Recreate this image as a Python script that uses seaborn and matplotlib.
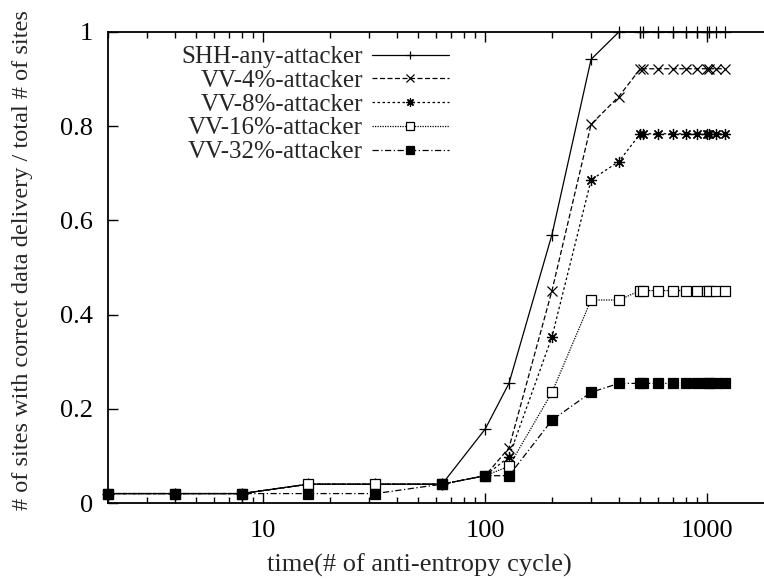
import numpy as np
import pandas as pd
import matplotlib
matplotlib.use("Agg")
import matplotlib.pyplot as plt
import seaborn as sns

# data
cycles = [2, 4, 8, 16, 32, 64, 100, 128, 200, 300, 400, 500, 512, 600, 700, 800, 900, 1000, 1024, 1100, 1200]

shh_any = [0.02, 0.02, 0.02, 0.04, 0.04, 0.04, 0.157, 0.254, 0.57, 0.942, 1.0,
           1.0, 1.0, 1.0, 1.0, 1.0, 1.0, 1.0, 1.0, 1.0, 1.0]
vv_4 = [0.02, 0.02, 0.02, 0.04, 0.04, 0.04, 0.058, 0.117, 0.451, 0.804, 0.863,
        0.922, 0.922, 0.922, 0.922, 0.922, 0.922, 0.922, 0.922, 0.922, 0.922]
vv_8 = [0.02, 0.02, 0.02, 0.04, 0.04, 0.04, 0.058, 0.098, 0.353, 0.686, 0.725,
        0.784, 0.784, 0.784, 0.784, 0.784, 0.784, 0.784, 0.784, 0.784, 0.784]
vv_16 = [0.02, 0.02, 0.02, 0.04, 0.04, 0.04, 0.058, 0.078, 0.235, 0.431, 0.431,
         0.451, 0.451, 0.451, 0.451, 0.451, 0.451, 0.451, 0.451, 0.451, 0.451]
vv_32 = [0.02, 0.02, 0.02, 0.02, 0.02, 0.04, 0.058, 0.058, 0.176, 0.235, 0.254,
         0.254, 0.254, 0.254, 0.254, 0.254, 0.254, 0.254, 0.254, 0.254, 0.254]

labels = ["SHH-any-attacker", "VV-4%-attacker", "VV-8%-attacker",
          "VV-16%-attacker", "VV-32%-attacker"]
series = [shh_any, vv_4, vv_8, vv_16, vv_32]

sns.set_style("ticks")
plt.rcParams["font.family"] = ["Liberation Serif", "DejaVu Serif"]
plt.rcParams["font.size"] = 19

fig = plt.figure(figsize=(7.64, 5.79), dpi=100)
# right border of the original is cut off by the picture edge
ax = fig.add_axes([108 / 764, 76 / 579, 666 / 764, 471 / 579])

# gnuplot-like styles
styles = [
    dict(marker="+", linestyle="-", ms=8, mfc="black"),
    dict(marker="x", linestyle=(0, (4, 2)), ms=7, mfc="black"),
    dict(marker=(8, 2, 0), linestyle=(0, (2, 2)), ms=8, mfc="black"),
    dict(marker="s", linestyle=(0, (1, 1)), ms=6.5, mfc="white"),
    dict(marker="s", linestyle=(0, (5, 2, 1, 2)), ms=7, mfc="black"),
]

for lab, vals, st in zip(labels, series, styles):
    df = pd.DataFrame({"cycle": cycles, "frac": vals})
    sns.lineplot(data=df, x="cycle", y="frac", ax=ax, color="black", lw=0.9,
                 mec="black", mew=0.9, label=lab, clip_on=False, **st)

ax.set_xscale("log")
ax.set_xlim(2, 2000)
ax.set_ylim(0, 1)
ax.set_xticks([10, 100, 1000])
ax.set_xticklabels(["10", "100", "1000"])
ax.set_yticks([0, 0.2, 0.4, 0.6, 0.8, 1.0])
ax.set_yticklabels(["0", "0.2", "0.4", "0.6", "0.8", "1"])

ax.tick_params(which="both", direction="in", top=True, right=False, width=1, colors="black")
ax.tick_params(which="major", length=7)
ax.tick_params(which="minor", length=4)
ax.tick_params(axis="x", which="major", pad=12)
ax.tick_params(axis="y", which="major", pad=11)
for side in ["left", "bottom", "top"]:
    ax.spines[side].set_linewidth(1.3)
    ax.spines[side].set_color("black")
ax.spines["right"].set_visible(False)

ax.set_xlabel("time(# of anti-entropy cycle)")
ax.set_ylabel("# of sites with correct data delivery / total # of sites", fontsize=17.5)
ax.xaxis.set_label_coords((419 - 108) / 666, -0.108)
ax.yaxis.set_label_coords(-0.113, 0.515)

leg = ax.legend(loc="upper right", bbox_to_anchor=(0.533, 1.0), frameon=False,
                markerfirst=False, handlelength=3.1, labelspacing=0.05,
                handletextpad=0.35, borderaxespad=0.15, fontsize=18)
for h in leg.legend_handles:
    h.set_markersize(6)

fig.savefig("out.png", dpi=100)
